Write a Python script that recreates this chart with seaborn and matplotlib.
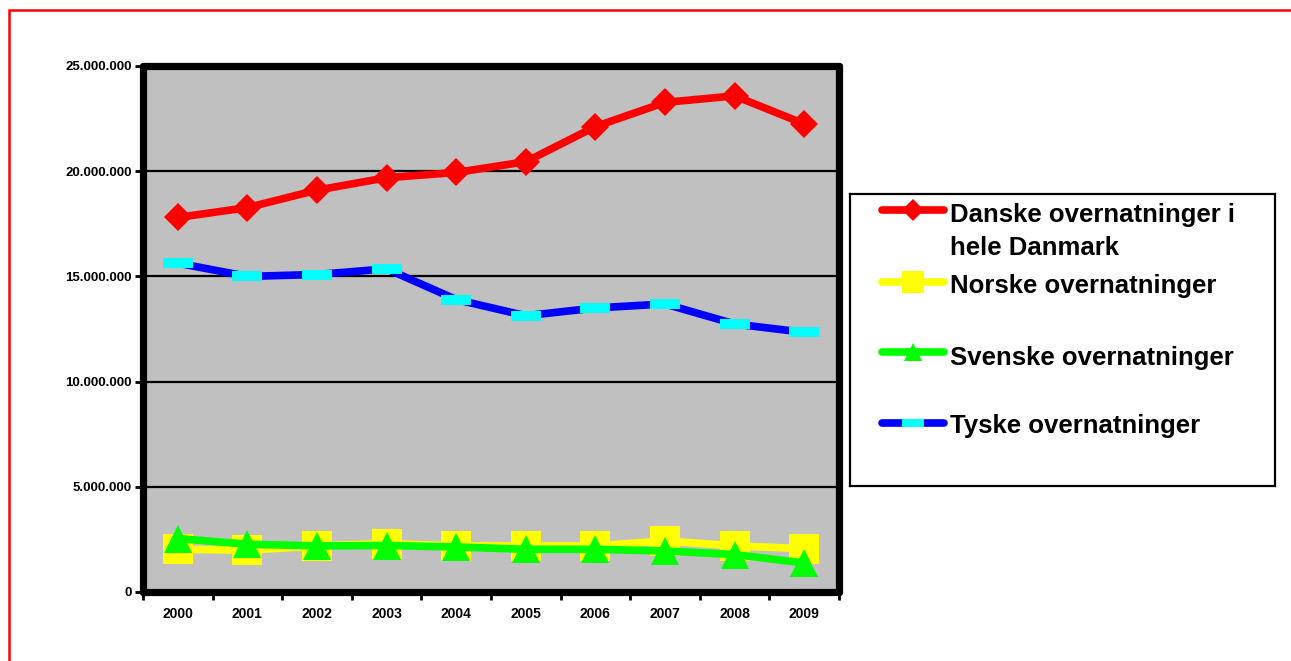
import numpy as np
import matplotlib
matplotlib.use("Agg")
import matplotlib.pyplot as plt
from matplotlib.lines import Line2D
from matplotlib.patches import Rectangle
import seaborn as sns

# Overnight stays by nationality, 2000-2009
years = ["2000", "2001", "2002", "2003", "2004", "2005", "2006", "2007", "2008", "2009"]
danske = [17.8e6, 18.27e6, 19.1e6, 19.69e6, 19.94e6, 20.45e6, 22.12e6, 23.27e6, 23.58e6, 22.25e6]
norske = [2.03e6, 1.99e6, 2.19e6, 2.30e6, 2.19e6, 2.19e6, 2.19e6, 2.43e6, 2.19e6, 2.06e6]
svenske = [2.54e6, 2.27e6, 2.19e6, 2.21e6, 2.14e6, 2.03e6, 2.03e6, 1.95e6, 1.78e6, 1.38e6]
tyske = [15.63e6, 15.0e6, 15.09e6, 15.36e6, 13.9e6, 13.13e6, 13.5e6, 13.69e6, 12.74e6, 12.34e6]

labels = ["Danske overnatninger i\nhele Danmark", "Norske overnatninger",
          "Svenske overnatninger", "Tyske overnatninger"]
yticks = [0, 5e6, 10e6, 15e6, 20e6, 25e6]

sns.set_theme(style="white")
plt.rcParams["font.family"] = ["Liberation Sans", "DejaVu Sans"]

W, H = 1291, 661
fig = plt.figure(figsize=(W / 100, H / 100), dpi=100)
fig.patch.set_facecolor("white")

ax = fig.add_axes([143 / W, (H - 592) / H, 696 / W, 526 / H])
ax.set_facecolor("#C0C0C0")

dash = [(-1.5, -0.5), (1.5, -0.5), (1.5, 0.5), (-1.5, 0.5), (-1.5, -0.5)]
series = [
    (danske, dict(color="#FF0000", marker="D", markersize=14, mfc="#FF0000", mec="#FF0000", mew=0)),
    (norske, dict(color="#FFFF00", marker="s", markersize=21, mfc="#FFFF00", mec="#FFFF00", mew=0)),
    (svenske, dict(color="#00FF00", marker="^", markersize=20, mfc="#00FF00", mec="#00FF00", mew=0)),
    (tyske, dict(color="#0000FF", marker=dash, markersize=21, mfc="#00FFFF", mec="#00FFFF", mew=0)),
]
x = np.arange(len(years))
for vals, style in series:
    sns.lineplot(x=x, y=vals, ax=ax, linewidth=5.5, legend=False,
                 solid_joinstyle="round", solid_capstyle="round", **style)

ax.set_xlim(-0.5, len(years) - 0.5)
ax.set_ylim(0, 25e6)
ax.set_yticks(yticks)
ax.set_yticklabels(["0" if v == 0 else f"{int(v):,}".replace(",", ".") for v in yticks],
                   fontsize=9.5, fontweight="bold", color="black")
ax.set_xticks(np.arange(-0.5, len(years), 1.0))
ax.set_xticklabels([])
ax.set_xticks(x, minor=True)
ax.set_xticklabels(years, minor=True, fontsize=10, fontweight="bold", color="black")
ax.tick_params(axis="x", which="major", direction="out", length=6, width=2, color="black", bottom=True)
ax.tick_params(axis="x", which="minor", length=0, pad=11)
ax.tick_params(axis="y", direction="out", length=6, width=2, color="black", pad=2, left=True)

ax.yaxis.grid(True, color="black", linewidth=1.6)
ax.xaxis.grid(False)
ax.set_axisbelow(True)
for sp in ax.spines.values():
    sp.set_visible(True)
    sp.set_color("black")
    sp.set_linewidth(5.2)
    sp.set_capstyle("round")
ax.set_xlabel("")
ax.set_ylabel("")

# Legend box
lax = fig.add_axes([850 / W, (H - 486) / H, 425 / W, 292 / H])
lax.set_xlim(0, 425)
lax.set_ylim(292, 0)
lax.set_xticks([])
lax.set_yticks([])
lax.set_facecolor("white")
for sp in lax.spines.values():
    sp.set_visible(True)
    sp.set_color("black")
    sp.set_linewidth(1.6)

handle_y = [16, 88, 158, 229]
text_base = [28, 99, 171, 239]
handle_ms = [11, 16, 13, 16]
for (vals, style), hy, ty, lab, hms in zip(series, handle_y, text_base, labels, handle_ms):
    st = dict(style)
    st["markersize"] = hms
    lax.add_line(Line2D([32, 63, 94], [hy, hy, hy], linewidth=5.5, markevery=[1],
                        solid_capstyle="round", **st))
    first, *rest = lab.split("\n")
    lax.text(100, ty, first, fontsize=18.5, fontweight="bold", va="baseline", ha="left", color="black")
    for i, line in enumerate(rest, start=1):
        lax.text(100, ty + 33 * i, line, fontsize=18.5, fontweight="bold", va="baseline", ha="left", color="black")

# Outer red frame
fig.patches.append(Rectangle((9 / W, -0.1), 1.2, 1 - 10 / H + 0.1, transform=fig.transFigure,
                             fill=False, edgecolor="#FF0000", linewidth=1.8))

fig.savefig("out.png", dpi=100)
